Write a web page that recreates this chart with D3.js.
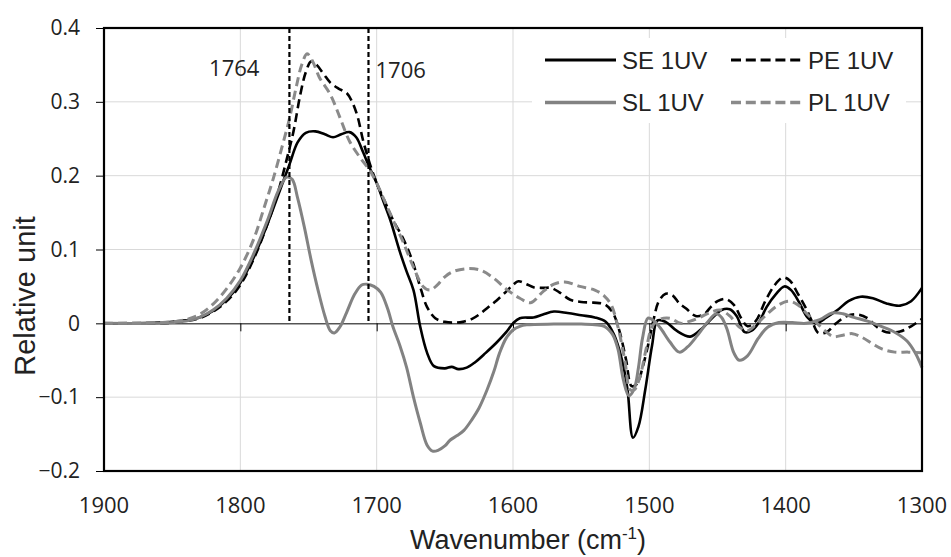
<!DOCTYPE html>
<html>
<head>
<meta charset="utf-8">
<script src="https://cdn.jsdelivr.net/npm/d3@7"></script>
<style>
  body { margin: 0; background: #fff; }
  svg { display: block; }
</style>
</head>
<body>
<div id="chart"></div>
<script>
const width = 951;
const height = 557;
const margin = { top: 28, right: 29, bottom: 86, left: 104 };

// Spectra: [wavenumber, relative unit]
const seData = [
  [1900, 0], [1880, 0], [1860, 0.001], [1850, 0.002], [1840, 0.004], [1830, 0.008], [1820, 0.017],
  [1810, 0.032], [1800, 0.055], [1790, 0.09], [1780, 0.135], [1770, 0.185], [1764, 0.215],
  [1758, 0.245], [1752, 0.258], [1745, 0.26], [1738, 0.256], [1732, 0.252], [1726, 0.256],
  [1720, 0.259], [1715, 0.252], [1710, 0.232], [1705, 0.21], [1700, 0.19], [1695, 0.165],
  [1690, 0.14], [1683, 0.097], [1678, 0.07], [1673, 0.045], [1668, -0.005], [1663, -0.04],
  [1658, -0.058], [1650, -0.061], [1645, -0.059], [1640, -0.062], [1634, -0.06], [1628, -0.053],
  [1620, -0.04], [1612, -0.026], [1605, -0.012], [1600, 0], [1595, 0.007], [1585, 0.008],
  [1578, 0.012], [1570, 0.016], [1560, 0.014], [1550, 0.011], [1540, 0.008], [1532, 0.002],
  [1526, -0.015], [1520, -0.05], [1516, -0.09], [1512, -0.155], [1508, -0.14], [1503, -0.09],
  [1498, -0.03], [1494, 0.004], [1488, 0.002], [1480, -0.01], [1470, -0.018], [1462, -0.008],
  [1455, 0.005], [1447, 0.018], [1441, 0.019], [1436, 0.01], [1430, -0.012], [1425, -0.01],
  [1420, 0], [1414, 0.022], [1407, 0.04], [1401, 0.05], [1396, 0.045], [1390, 0.028],
  [1384, 0.008], [1378, 0], [1370, 0.008], [1362, 0.018], [1354, 0.03], [1345, 0.036],
  [1336, 0.034], [1326, 0.027], [1316, 0.024], [1308, 0.03], [1300, 0.048]
];

const peData = [
  [1900, 0], [1860, 0], [1850, 0.001], [1840, 0.003], [1830, 0.007], [1820, 0.016], [1810, 0.03],
  [1800, 0.052], [1790, 0.088], [1780, 0.135], [1772, 0.18], [1766, 0.222], [1761, 0.26],
  [1756, 0.31], [1752, 0.34], [1748, 0.355], [1744, 0.35], [1739, 0.338], [1734, 0.326],
  [1728, 0.318], [1722, 0.312], [1718, 0.3], [1714, 0.28], [1710, 0.248], [1705, 0.216],
  [1700, 0.19], [1694, 0.165], [1688, 0.14], [1682, 0.12], [1677, 0.1], [1673, 0.08],
  [1668, 0.049], [1663, 0.022], [1657, 0.007], [1650, 0.002], [1643, 0.001], [1637, 0.002],
  [1630, 0.006], [1624, 0.013], [1618, 0.022], [1612, 0.031], [1605, 0.043], [1600, 0.052],
  [1596, 0.057], [1590, 0.053], [1585, 0.049], [1578, 0.048], [1572, 0.048], [1566, 0.042],
  [1558, 0.032], [1550, 0.029], [1541, 0.028], [1533, 0.026], [1527, 0.015], [1522, -0.01],
  [1517, -0.05], [1513, -0.085], [1509, -0.082], [1505, -0.06], [1501, -0.03], [1497, 0.004],
  [1493, 0.03], [1488, 0.04], [1483, 0.038], [1478, 0.027], [1473, 0.02], [1466, 0.01],
  [1460, 0.012], [1455, 0.022], [1450, 0.03], [1444, 0.033], [1438, 0.025], [1432, 0.005],
  [1428, -0.004], [1422, 0.003], [1415, 0.03], [1408, 0.052], [1402, 0.062], [1397, 0.058],
  [1391, 0.04], [1385, 0.02], [1380, 0], [1376, -0.013], [1370, -0.012], [1363, 0],
  [1355, 0.01], [1347, 0.012], [1340, 0.007], [1333, -0.005], [1326, -0.012], [1316, -0.011],
  [1308, -0.004], [1300, 0.006]
];

const slData = [
  [1900, 0], [1860, 0], [1850, 0.001], [1840, 0.003], [1830, 0.008], [1820, 0.018], [1810, 0.034],
  [1800, 0.058], [1790, 0.095], [1780, 0.14], [1772, 0.18], [1766, 0.198], [1762, 0.195],
  [1758, 0.17], [1753, 0.13], [1748, 0.085], [1743, 0.045], [1738, 0.01], [1734, -0.01],
  [1731, -0.013], [1727, -0.005], [1722, 0.015], [1716, 0.04], [1711, 0.052], [1707, 0.053],
  [1702, 0.05], [1697, 0.042], [1692, 0.02], [1688, -0.005], [1683, -0.03], [1678, -0.06],
  [1673, -0.1], [1668, -0.135], [1663, -0.165], [1659, -0.173], [1655, -0.172], [1650, -0.166],
  [1646, -0.158], [1641, -0.152], [1636, -0.145], [1630, -0.13], [1625, -0.115], [1619, -0.09],
  [1614, -0.065], [1610, -0.041], [1605, -0.02], [1600, -0.009], [1595, -0.004], [1590, -0.002],
  [1570, -0.001], [1550, -0.001], [1540, -0.002], [1533, -0.004], [1527, -0.015], [1523, -0.035],
  [1519, -0.077], [1515, -0.098], [1511, -0.088], [1508, -0.06], [1505, -0.02], [1501, 0.007],
  [1497, 0.004], [1492, -0.006], [1485, -0.025], [1478, -0.039], [1472, -0.032], [1465, -0.017],
  [1458, 0], [1451, 0.013], [1447, 0.008], [1443, -0.008], [1438, -0.04], [1434, -0.05],
  [1428, -0.044], [1420, -0.02], [1413, -0.005], [1405, 0.001], [1395, 0.001], [1385, 0],
  [1375, 0.005], [1366, 0.014], [1358, 0.013], [1350, 0.008], [1340, 0.003], [1330, -0.004],
  [1320, -0.012], [1311, -0.024], [1305, -0.04], [1300, -0.06]
];

const plData = [
  [1900, 0], [1860, 0.001], [1850, 0.002], [1840, 0.005], [1830, 0.012], [1820, 0.026],
  [1810, 0.047], [1800, 0.075], [1790, 0.115], [1782, 0.16], [1776, 0.195], [1770, 0.235],
  [1764, 0.277], [1759, 0.32], [1755, 0.35], [1751, 0.365], [1747, 0.355], [1742, 0.333],
  [1734, 0.31], [1727, 0.279], [1720, 0.247], [1712, 0.224], [1705, 0.207], [1700, 0.19],
  [1694, 0.165], [1688, 0.14], [1681, 0.112], [1673, 0.076], [1666, 0.05], [1661, 0.045],
  [1656, 0.051], [1650, 0.063], [1644, 0.07], [1634, 0.074], [1624, 0.072], [1614, 0.061],
  [1604, 0.045], [1595, 0.034], [1587, 0.028], [1578, 0.043], [1570, 0.053], [1562, 0.056],
  [1551, 0.05], [1540, 0.045], [1533, 0.037], [1528, 0.025], [1523, -0.005], [1518, -0.05],
  [1514, -0.09], [1511, -0.09], [1507, -0.073], [1502, -0.032], [1498, -0.005], [1493, 0.005],
  [1485, 0.007], [1477, 0], [1470, 0.003], [1463, 0.008], [1455, 0.015], [1448, 0.018],
  [1441, 0.01], [1434, -0.005], [1428, -0.01], [1422, -0.002], [1414, 0.012], [1406, 0.024],
  [1398, 0.03], [1391, 0.025], [1384, 0.012], [1377, 0], [1370, -0.012], [1365, -0.018],
  [1358, -0.016], [1351, -0.014], [1344, -0.019], [1336, -0.028], [1329, -0.035], [1320, -0.039],
  [1310, -0.039], [1300, -0.04]
];

const seriesNames = ["SE 1UV", "PE 1UV", "SL 1UV", "PL 1UV"];
const markerLines = [1764, 1706];
const xTicks = [1900, 1800, 1700, 1600, 1500, 1400, 1300];
const yTicks = [-0.2, -0.1, 0, 0.1, 0.2, 0.3, 0.4];

const series = [
  { name: seriesNames[0], data: seData, color: "#000000", dash: null, w: 2.6 },
  { name: seriesNames[1], data: peData, color: "#000000", dash: "9,5", w: 2.6 },
  { name: seriesNames[2], data: slData, color: "#828282", dash: null, w: 3 },
  { name: seriesNames[3], data: plData, color: "#8a8a8a", dash: "9,5", w: 3 }
];

const svg = d3.select("#chart")
  .append("svg")
  .attr("width", width)
  .attr("height", height);

const x = d3.scaleLinear().domain([1900, 1300]).range([margin.left, width - margin.right]);
const y = d3.scaleLinear().domain([-0.2, 0.4]).range([height - margin.bottom, margin.top]);

// Gridlines
svg.append("g")
  .selectAll("line")
  .data(xTicks.slice(1, -1))
  .join("line")
  .attr("x1", d => x(d)).attr("x2", d => x(d))
  .attr("y1", y(0.4)).attr("y2", y(-0.2))
  .attr("stroke", "#d9d9d9").attr("stroke-width", 1);

svg.append("g")
  .selectAll("line")
  .data(yTicks.filter(d => d !== 0 && d !== 0.4 && d !== -0.2))
  .join("line")
  .attr("x1", x(1900)).attr("x2", x(1300))
  .attr("y1", d => y(d)).attr("y2", d => y(d))
  .attr("stroke", "#d9d9d9").attr("stroke-width", 1);

// Y axis
const yAxis = svg.append("g")
  .attr("transform", `translate(${x(1900)},0)`)
  .call(d3.axisLeft(y).tickValues(yTicks).tickSize(8).tickPadding(16)
    .tickFormat(d => d === 0 ? "0" : d3.format(".1f")(d)));
yAxis.select(".domain").remove();
yAxis.selectAll("line").attr("stroke", "#000").attr("stroke-width", 1);
yAxis.selectAll("text")
  .attr("font-family", "'Open Sans', sans-serif")
  .attr("font-size", 21)
  .attr("fill", "#222");

// X axis on the zero line
const xAxis = svg.append("g")
  .attr("transform", `translate(0,${y(0)})`)
  .call(d3.axisBottom(x).tickValues(xTicks).tickSize(8).tickFormat(""));
xAxis.select(".domain").attr("stroke", "#000").attr("stroke-width", 1);
xAxis.selectAll("line").attr("stroke", "#000").attr("stroke-width", 1);

svg.append("g")
  .selectAll("text")
  .data(xTicks)
  .join("text")
  .attr("x", d => x(d))
  .attr("y", 513)
  .attr("text-anchor", "middle")
  .attr("font-family", "'Open Sans', sans-serif")
  .attr("font-size", 22)
  .attr("fill", "#222")
  .text(d => d);

// Spectra
const line = d3.line()
  .x(d => x(d[0]))
  .y(d => y(d[1]))
  .curve(d3.curveCatmullRom.alpha(0.5));

svg.append("g")
  .selectAll("path")
  .data(series)
  .join("path")
  .attr("d", d => line(d.data))
  .attr("fill", "none")
  .attr("stroke", d => d.color)
  .attr("stroke-width", d => d.w)
  .attr("stroke-dasharray", d => d.dash)
  .attr("stroke-linejoin", "round");

// Marker lines at 1764 and 1706
svg.append("g")
  .selectAll("line")
  .data(markerLines)
  .join("line")
  .attr("x1", d => x(d)).attr("x2", d => x(d))
  .attr("y1", y(0.4)).attr("y2", y(0))
  .attr("stroke", "#000")
  .attr("stroke-width", 2.2)
  .attr("stroke-dasharray", "5,3");

svg.append("text")
  .attr("x", x(1764) - 30).attr("y", 76)
  .attr("text-anchor", "end")
  .attr("font-family", "'Open Sans', sans-serif")
  .attr("font-size", 22)
  .attr("fill", "#222")
  .text(markerLines[0]);

svg.append("text")
  .attr("x", x(1706) + 7).attr("y", 78)
  .attr("font-family", "'Open Sans', sans-serif")
  .attr("font-size", 22)
  .attr("fill", "#222")
  .text(markerLines[1]);

// Legend
svg.append("rect")
  .attr("x", 532).attr("y", 38)
  .attr("width", 374).attr("height", 85)
  .attr("fill", "#fff");

const legend = svg.append("g")
  .selectAll("g")
  .data(series)
  .join("g")
  .attr("transform", (d, i) => `translate(${545 + (i % 2) * 186},${60 + Math.floor(i / 2) * 42.5})`);

legend.append("line")
  .attr("x1", 0).attr("x2", 71)
  .attr("stroke", d => d.color)
  .attr("stroke-width", d => d.w + 0.6)
  .attr("stroke-dasharray", d => d.dash ? "10,4.8" : null);

legend.append("text")
  .attr("x", 77).attr("y", 8.5)
  .attr("font-family", "'Liberation Sans', Arial, sans-serif")
  .attr("font-size", 24)
  .attr("fill", "#222")
  .text(d => d.name);

// Plot frame
svg.append("rect")
  .attr("x", x(1900)).attr("y", y(0.4))
  .attr("width", x(1300) - x(1900))
  .attr("height", y(-0.2) - y(0.4))
  .attr("fill", "none")
  .attr("stroke", "#000")
  .attr("stroke-width", 2.2);

// Axis titles
svg.append("text")
  .attr("transform", `translate(35,${296}) rotate(-90)`)
  .attr("text-anchor", "middle")
  .attr("font-family", "'Liberation Sans', Arial, sans-serif")
  .attr("font-size", 29)
  .attr("fill", "#222")
  .text("Relative unit");

const xt = svg.append("text")
  .attr("x", 528).attr("y", 549)
  .attr("text-anchor", "middle")
  .attr("font-family", "'Liberation Sans', Arial, sans-serif")
  .attr("font-size", 27)
  .attr("fill", "#222");
xt.append("tspan").text("Wavenumber (cm");
xt.append("tspan").attr("font-size", 17).attr("dy", -10).text("-1");
xt.append("tspan").attr("dy", 10).text(")");
</script>
</body>
</html>
